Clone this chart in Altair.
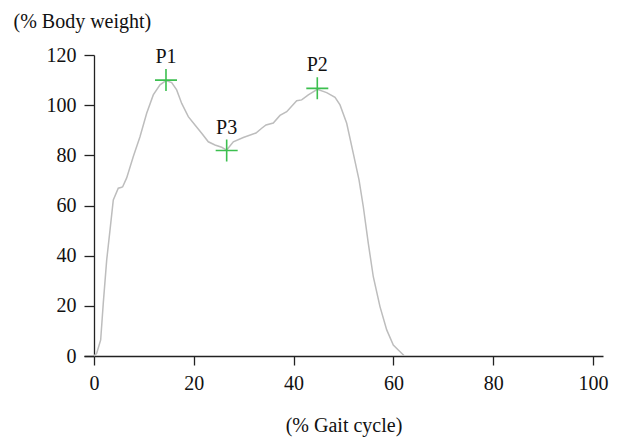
import altair as alt
import pandas as pd

gait_x = [0, 0.54, 1.34, 1.86, 2.55, 3.21, 3.87, 4.87, 5.55, 5.75, 6.55, 7.88, 9.22, 10.56,
          11.88, 13.23, 14.43, 15.57, 16.57, 17.58, 18.90, 20.24, 21.58, 22.91, 24.25, 25.59,
          26.59, 27.92, 29.92, 32.46, 33.61, 34.47, 35.93, 37.27, 38.62, 40.62, 41.62, 42.95,
          44.75, 46.63, 48.30, 49.30, 50.64, 51.96, 53.11, 53.97, 54.97, 55.97, 57.31, 58.66,
          59.98, 60.98, 62.12]
body_weight = [0, 1.1, 6.4, 21.0, 38.3, 50.2, 62.2, 66.9, 67.3, 67.5, 71.0, 79.5, 87.4, 96.8,
               104.1, 108.1, 109.8, 109.0, 106.1, 100.7, 95.4, 92.1, 88.8, 85.4, 84.1, 83.2,
               82.1, 85.4, 87.1, 88.9, 90.8, 92.1, 92.9, 95.9, 97.4, 101.8, 102.1, 104.1,
               106.3, 105.0, 103.1, 100.1, 92.8, 80.8, 70.2, 59.5, 44.9, 31.6, 19.7, 10.4,
               4.4, 2.4, 0.2]

peak_names = ["P1", "P3", "P2"]
peak_x = [14.43, 26.59, 44.75]
peak_y = [110.0, 81.9, 106.7]

x_ticks = [0, 20, 40, 60, 80, 100]
y_ticks = [0, 20, 40, 60, 80, 100, 120]

curve = pd.DataFrame({"x": gait_x, "y": body_weight})
peaks = pd.DataFrame({"name": peak_names, "x": peak_x, "y": peak_y})

FONT = "Liberation Serif"

xscale = alt.Scale(domain=[-2, 102], nice=False, zero=False)
yscale = alt.Scale(domain=[0, 120], nice=False)

xaxis = alt.Axis(values=x_ticks, title="(% Gait cycle)", grid=False, tickSize=9,
                 labelPadding=8, titlePadding=22, labelFontSize=20, titleFontSize=20,
                 labelFont=FONT, titleFont=FONT, titleFontWeight="normal",
                 labelColor="#111", titleColor="#111", domainColor="#222", tickColor="#222",
                 domainWidth=1.3, tickWidth=1.3)
yaxis = alt.Axis(values=y_ticks, title="(% Body weight)", grid=False, tickSize=10,
                 labelPadding=8, offset=-10, labelFontSize=20, titleFontSize=20,
                 labelFont=FONT, titleFont=FONT, titleFontWeight="normal",
                 labelColor="#111", titleColor="#111", domainColor="#222", tickColor="#222",
                 domainWidth=1.3, tickWidth=1.3, titleAngle=0, titleAlign="left",
                 titleBaseline="middle", titleX=-81, titleY=-34)

line = alt.Chart(curve).mark_line(color="#bdbdbd", strokeWidth=1.5).encode(
    x=alt.X("x:Q", scale=xscale, axis=xaxis),
    y=alt.Y("y:Q", scale=yscale, axis=yaxis),
)

markers = alt.Chart(peaks).mark_point(
    shape="M-1,0L1,0M0,-1L0,1", size=484, filled=False, color="#3cbf4f", strokeWidth=1.6,
    opacity=1
).encode(x=alt.X("x:Q", scale=xscale), y=alt.Y("y:Q", scale=yscale))

labels = alt.Chart(peaks).mark_text(
    dy=-23, font=FONT, fontSize=20, color="#111"
).encode(x=alt.X("x:Q", scale=xscale), y=alt.Y("y:Q", scale=yscale), text="name:N")

chart = alt.layer(line, markers, labels).properties(
    width=519, height=301, autosize="none",
    padding={"left": 76, "top": 47, "right": 10, "bottom": 82},
).configure_view(stroke=None)

chart.save("out.html", embed_options={"renderer": "svg", "actions": False})
